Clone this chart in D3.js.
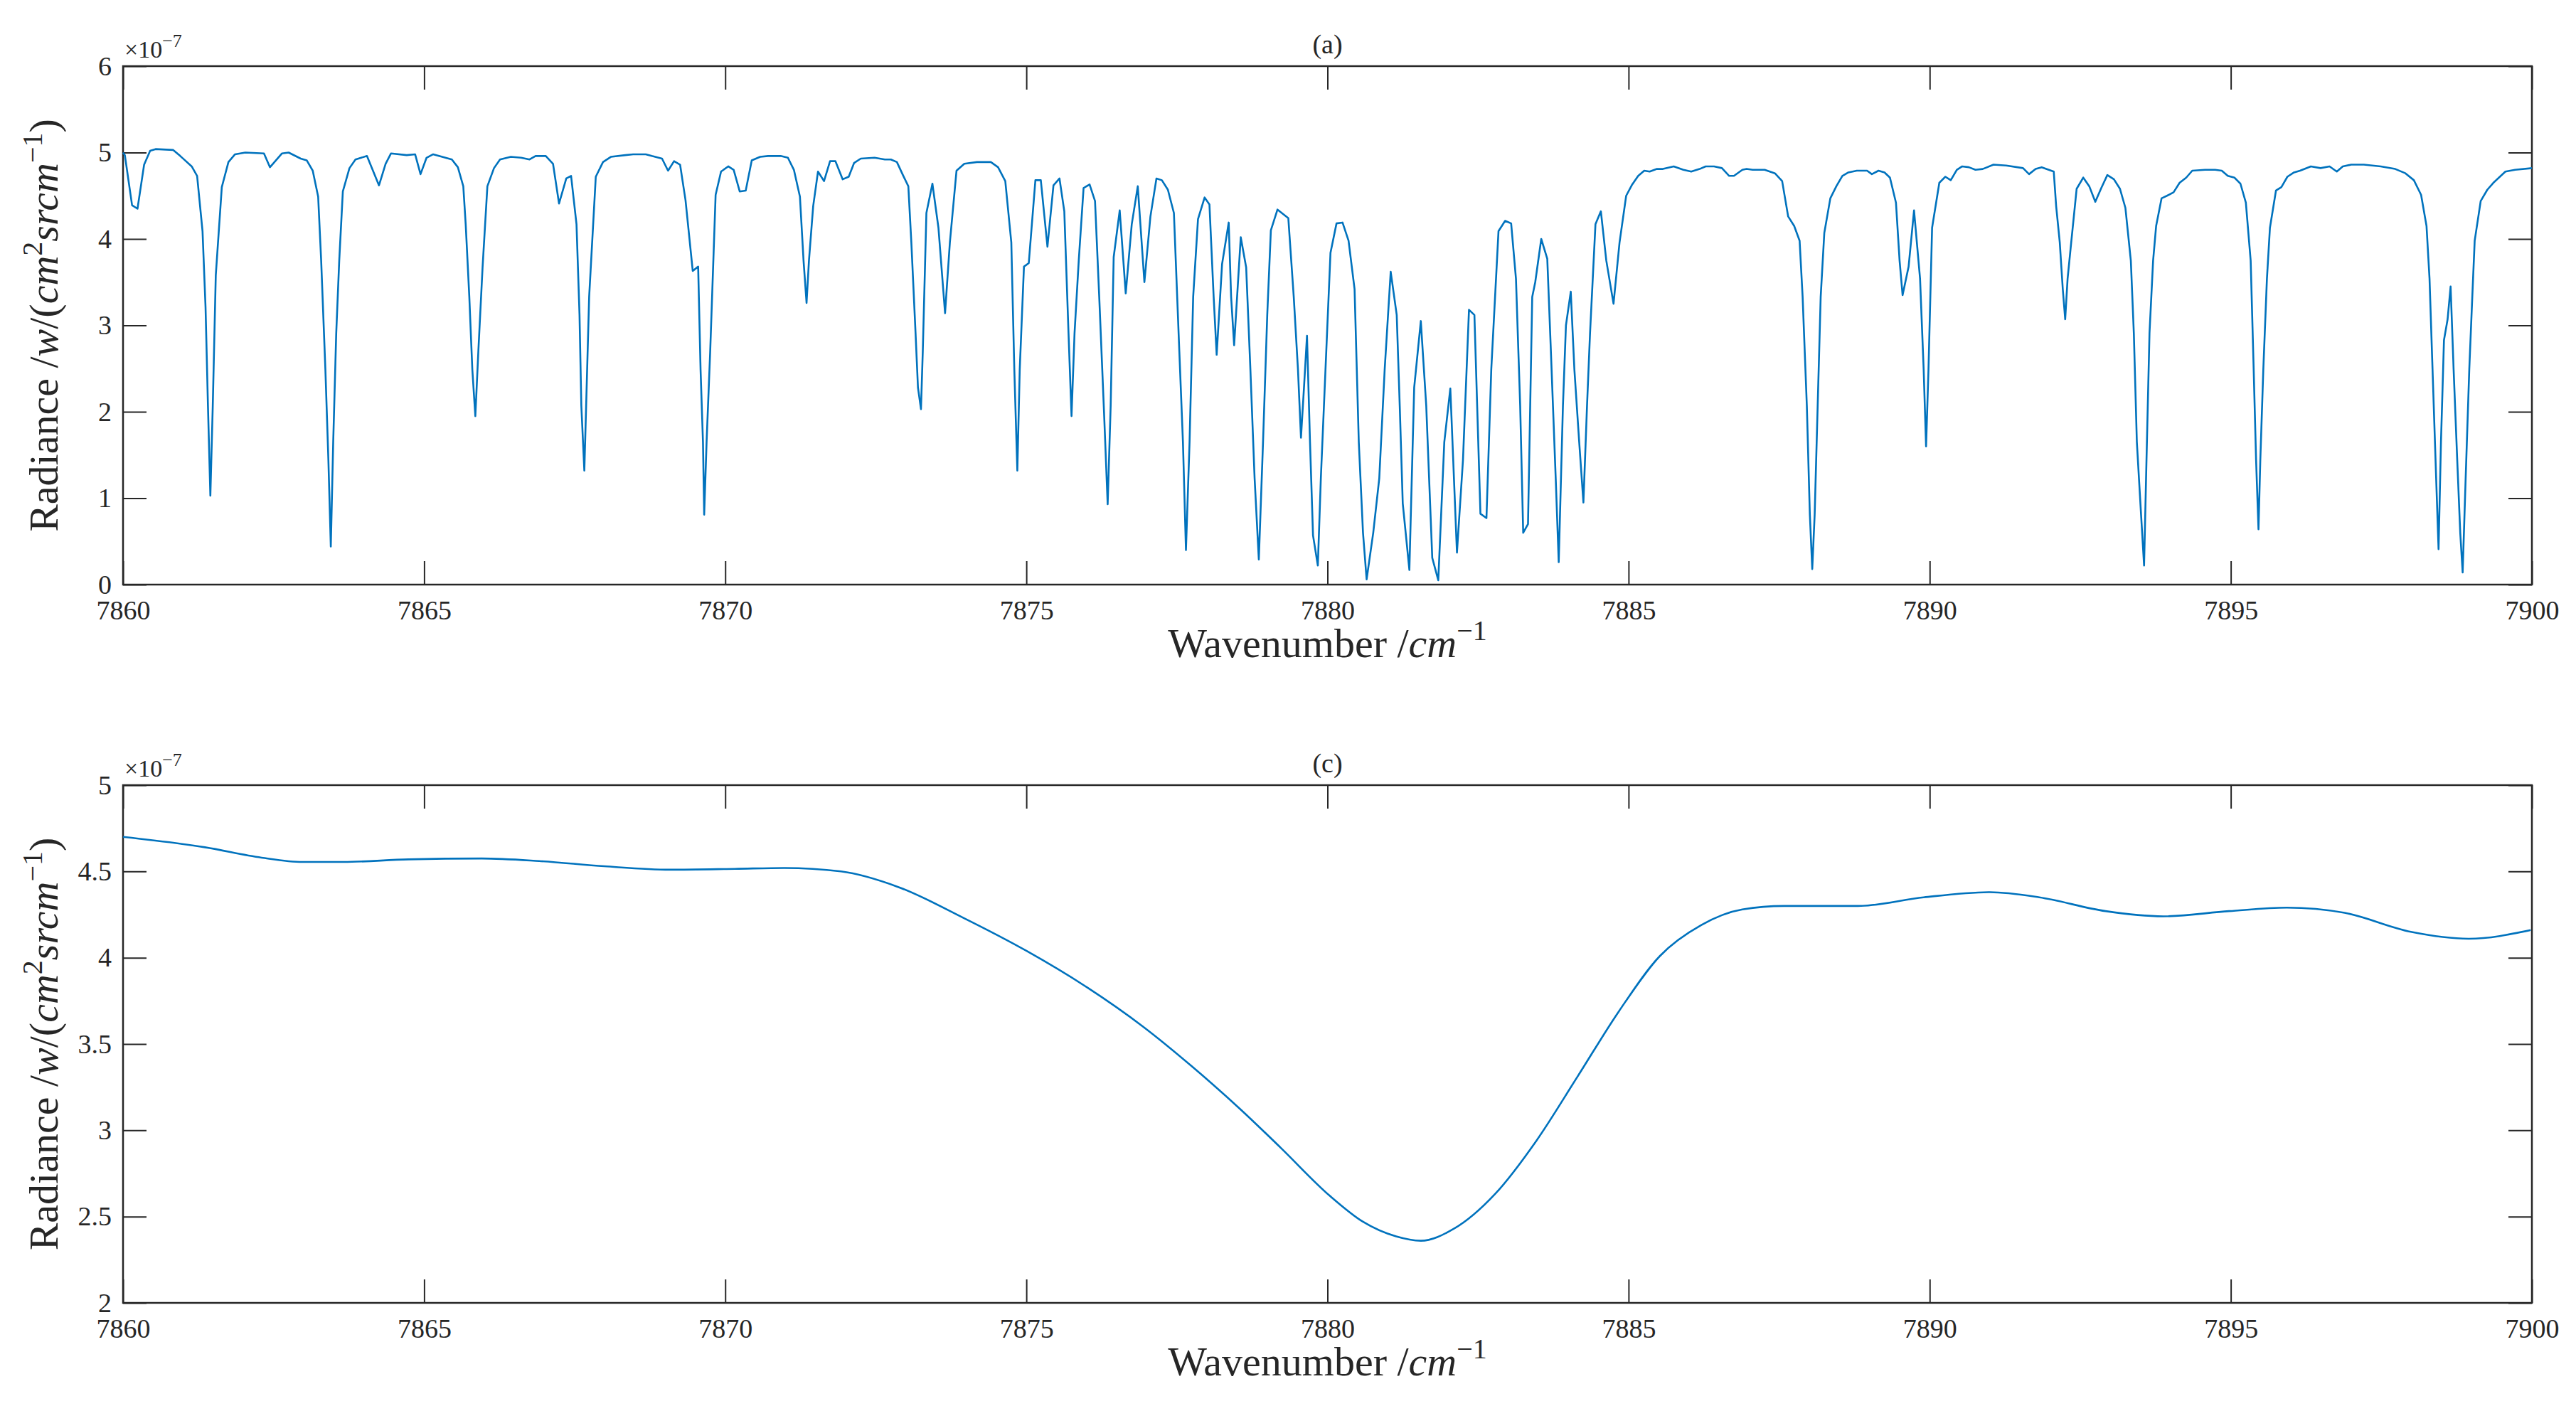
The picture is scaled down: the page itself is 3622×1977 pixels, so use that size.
<!DOCTYPE html>
<html><head><meta charset="utf-8">
<script src="https://cdn.jsdelivr.net/npm/d3@7"></script>
<style>body{margin:0;background:#fff}svg{display:block}text{font-family:"Liberation Serif","DejaVu Serif",serif;fill:#262626}</style>
</head><body>
<svg id="c" width="3622" height="1977"></svg>
<script>
const xTicks = [7860,7865,7870,7875,7880,7885,7890,7895,7900];
const yTicksA = [0,1,2,3,4,5,6];
const yTicksC = [2,2.5,3,3.5,4,4.5,5];
const titles = ["(a)","(c)"];
// panel (a): wavenumber (cm^-1) and radiance (x1e-7)
const wnA = [7860.00,7860.03,7860.15,7860.24,7860.35,7860.45,7860.54,7860.83,7860.95,7861.14,7861.23,7861.32,7861.37,7861.41,7861.45,7861.49,7861.54,7861.64,7861.75,7861.86,7862.03,7862.34,7862.44,7862.64,7862.75,7862.95,7863.05,7863.15,7863.24,7863.29,7863.36,7863.41,7863.45,7863.49,7863.54,7863.59,7863.65,7863.76,7863.86,7864.05,7864.25,7864.36,7864.45,7864.71,7864.85,7864.94,7865.04,7865.15,7865.46,7865.56,7865.65,7865.69,7865.75,7865.80,7865.85,7865.90,7865.97,7866.05,7866.16,7866.26,7866.44,7866.61,7866.75,7866.85,7867.02,7867.14,7867.24,7867.36,7867.44,7867.53,7867.58,7867.61,7867.66,7867.69,7867.74,7867.85,7867.97,7868.10,7868.34,7868.47,7868.68,7868.78,7868.95,7869.05,7869.15,7869.25,7869.34,7869.46,7869.55,7869.59,7869.63,7869.65,7869.69,7869.75,7869.84,7869.93,7870.05,7870.14,7870.24,7870.34,7870.44,7870.58,7870.71,7870.92,7871.04,7871.14,7871.24,7871.30,7871.35,7871.39,7871.46,7871.54,7871.64,7871.74,7871.83,7871.95,7872.05,7872.14,7872.25,7872.48,7872.65,7872.75,7872.85,7872.95,7873.04,7873.09,7873.16,7873.20,7873.25,7873.28,7873.34,7873.44,7873.54,7873.65,7873.73,7873.84,7873.97,7874.18,7874.41,7874.53,7874.65,7874.75,7874.80,7874.85,7874.89,7874.96,7875.04,7875.15,7875.24,7875.35,7875.45,7875.55,7875.63,7875.70,7875.75,7875.80,7875.87,7875.95,7876.05,7876.14,7876.21,7876.29,7876.35,7876.40,7876.45,7876.55,7876.65,7876.75,7876.85,7876.96,7877.06,7877.16,7877.25,7877.35,7877.45,7877.54,7877.60,7877.65,7877.71,7877.77,7877.85,7877.96,7878.04,7878.11,7878.16,7878.25,7878.36,7878.40,7878.45,7878.56,7878.65,7878.72,7878.79,7878.86,7878.93,7879.00,7879.06,7879.17,7879.35,7879.44,7879.51,7879.56,7879.61,7879.66,7879.71,7879.76,7879.84,7879.89,7879.98,7880.05,7880.15,7880.25,7880.35,7880.45,7880.52,7880.59,7880.65,7880.76,7880.86,7880.95,7881.05,7881.15,7881.20,7881.25,7881.36,7881.44,7881.55,7881.64,7881.74,7881.84,7881.94,7882.04,7882.15,7882.25,7882.35,7882.44,7882.54,7882.64,7882.72,7882.84,7882.95,7883.05,7883.13,7883.20,7883.25,7883.33,7883.40,7883.45,7883.55,7883.65,7883.71,7883.79,7883.84,7883.91,7883.96,7884.04,7884.10,7884.18,7884.25,7884.31,7884.36,7884.45,7884.54,7884.63,7884.75,7884.85,7884.96,7885.06,7885.16,7885.26,7885.35,7885.47,7885.57,7885.75,7885.91,7886.04,7886.18,7886.28,7886.42,7886.55,7886.67,7886.75,7886.89,7886.96,7887.06,7887.26,7887.43,7887.55,7887.65,7887.75,7887.84,7887.89,7887.96,7888.01,7888.05,7888.09,7888.14,7888.19,7888.25,7888.35,7888.45,7888.55,7888.65,7888.79,7888.96,7889.04,7889.15,7889.25,7889.34,7889.44,7889.50,7889.55,7889.65,7889.74,7889.84,7889.90,7889.94,7889.98,7890.04,7890.16,7890.26,7890.35,7890.45,7890.54,7890.65,7890.76,7890.88,7891.06,7891.27,7891.55,7891.65,7891.76,7891.86,7892.06,7892.10,7892.16,7892.21,7892.25,7892.29,7892.35,7892.44,7892.55,7892.65,7892.75,7892.85,7892.95,7893.06,7893.16,7893.25,7893.34,7893.39,7893.44,7893.51,7893.56,7893.60,7893.65,7893.71,7893.76,7893.85,7893.94,7894.05,7894.15,7894.26,7894.36,7894.57,7894.74,7894.85,7894.95,7895.06,7895.16,7895.25,7895.33,7895.38,7895.42,7895.46,7895.49,7895.54,7895.60,7895.65,7895.75,7895.84,7895.94,7896.05,7896.15,7896.33,7896.49,7896.64,7896.76,7896.86,7897.00,7897.21,7897.49,7897.73,7897.90,7898.04,7898.16,7898.25,7898.30,7898.35,7898.41,7898.45,7898.49,7898.54,7898.60,7898.65,7898.70,7898.76,7898.81,7898.85,7898.90,7898.96,7899.01,7899.05,7899.15,7899.26,7899.36,7899.56,7899.72,7900.00];
const radA = [5.00,4.97,4.39,4.35,4.86,5.02,5.04,5.03,4.96,4.84,4.73,4.09,3.21,2.07,1.03,2.07,3.58,4.60,4.89,4.98,5.00,4.99,4.83,4.99,5.00,4.93,4.91,4.79,4.49,3.75,2.49,1.44,0.44,1.65,2.91,3.75,4.55,4.82,4.92,4.96,4.62,4.87,4.99,4.97,4.98,4.75,4.94,4.98,4.92,4.83,4.61,4.17,3.33,2.49,1.95,2.70,3.67,4.61,4.82,4.92,4.95,4.94,4.92,4.96,4.96,4.87,4.41,4.70,4.73,4.17,3.12,2.07,1.32,2.07,3.33,4.72,4.89,4.95,4.97,4.98,4.98,4.96,4.93,4.79,4.90,4.86,4.45,3.63,3.68,2.49,1.65,0.81,1.65,2.70,4.51,4.78,4.84,4.80,4.55,4.56,4.91,4.95,4.96,4.96,4.94,4.80,4.49,3.75,3.26,3.75,4.38,4.78,4.67,4.90,4.90,4.69,4.72,4.88,4.93,4.94,4.92,4.92,4.89,4.74,4.61,3.96,2.91,2.28,2.03,2.70,4.30,4.64,4.13,3.14,3.96,4.79,4.87,4.89,4.89,4.83,4.67,3.96,2.49,1.32,2.49,3.68,3.72,4.68,4.68,3.91,4.62,4.70,4.32,2.91,1.95,2.91,3.75,4.59,4.63,4.44,3.33,1.99,0.93,2.07,3.79,4.33,3.37,4.17,4.61,3.50,4.26,4.70,4.68,4.57,4.30,2.70,1.65,0.40,1.65,3.33,4.23,4.48,4.40,3.33,2.66,3.71,4.19,3.33,2.77,4.02,3.67,2.49,1.23,0.29,1.65,3.12,4.10,4.34,4.24,3.33,2.49,1.70,2.28,2.88,1.65,0.57,0.22,1.23,2.70,3.84,4.18,4.19,3.98,3.42,1.65,0.60,0.06,0.60,1.23,2.49,3.62,3.12,2.07,0.94,0.17,2.28,3.05,2.07,0.31,0.05,1.65,2.27,0.37,1.44,3.18,3.12,0.82,0.77,2.49,4.09,4.21,4.18,3.54,2.07,0.60,0.70,3.33,3.50,4.00,3.77,2.70,1.23,0.26,2.07,3.00,3.39,2.49,1.65,0.95,2.07,2.91,4.17,4.32,3.75,3.25,3.96,4.50,4.63,4.73,4.79,4.78,4.81,4.81,4.84,4.80,4.78,4.81,4.84,4.84,4.82,4.73,4.73,4.80,4.81,4.80,4.80,4.76,4.67,4.26,4.15,3.98,3.33,2.07,0.81,0.18,0.81,2.07,3.33,4.07,4.47,4.61,4.73,4.77,4.79,4.79,4.75,4.79,4.77,4.71,4.42,3.75,3.35,3.68,4.33,3.54,2.49,1.60,2.49,4.13,4.65,4.72,4.68,4.80,4.84,4.83,4.80,4.81,4.86,4.85,4.82,4.75,4.81,4.83,4.78,4.38,3.96,3.42,3.07,3.54,3.96,4.58,4.71,4.61,4.43,4.59,4.74,4.69,4.58,4.36,3.75,2.91,1.65,0.81,0.22,1.44,2.91,3.75,4.15,4.47,4.50,4.54,4.65,4.71,4.79,4.80,4.80,4.79,4.73,4.71,4.64,4.42,3.75,2.49,1.44,0.64,1.44,2.49,3.54,4.13,4.56,4.60,4.72,4.77,4.79,4.84,4.82,4.84,4.78,4.84,4.86,4.86,4.84,4.81,4.76,4.68,4.51,4.15,3.54,2.49,1.23,0.41,1.65,2.83,3.07,3.45,2.49,1.44,0.60,0.14,1.23,2.49,3.33,3.98,4.44,4.57,4.65,4.78,4.80,4.82];
// panel (c): smoothed radiance (x1e-7)
const wnC = [7860.00,7861.36,7862.30,7862.98,7863.66,7864.74,7865.96,7866.91,7867.99,7869.08,7870.16,7870.98,7871.92,7872.87,7873.96,7875.00,7876.00,7876.94,7877.75,7878.56,7879.22,7880.04,7880.59,7881.14,7881.55,7882.10,7882.78,7883.47,7884.15,7884.84,7885.52,7886.21,7886.89,7887.58,7888.81,7889.90,7891.00,7891.82,7892.92,7893.88,7894.97,7895.93,7896.89,7897.99,7898.95,7899.98];
const radC = [4.70,4.64,4.58,4.555,4.555,4.57,4.575,4.56,4.53,4.51,4.515,4.52,4.50,4.41,4.23,4.04,3.83,3.60,3.37,3.12,2.90,2.62,2.47,2.385,2.36,2.43,2.63,2.94,3.31,3.69,4.01,4.19,4.28,4.30,4.30,4.35,4.38,4.35,4.27,4.24,4.27,4.29,4.26,4.15,4.11,4.16];

const svg = d3.select("#c");
const L = 173, R = 3560;
const x = d3.scaleLinear().domain([7860,7900]).range([L,R]);
const panels = [
  {top:93, bot:822, dom:[0,6], ticks:yTicksA, wn:wnA, rad:radA, curve:d3.curveLinear, title:titles[0]},
  {top:1104, bot:1832, dom:[2,5], ticks:yTicksC, wn:wnC, rad:radC, curve:d3.curveMonotoneX, title:titles[1]}
];
const axisCol = "#262626";
panels.forEach(p => {
  const y = d3.scaleLinear().domain(p.dom).range([p.bot,p.top]);
  const g = svg.append("g");
  const tl = 33;
  const ax = (a) => a.tickSizeInner(-tl).tickSizeOuter(0);
  g.append("g").attr("transform",`translate(0,${p.bot})`).call(ax(d3.axisBottom(x).tickValues(xTicks).tickFormat(d3.format("d"))).tickPadding(22));
  g.append("g").attr("transform",`translate(0,${p.top})`).call(ax(d3.axisTop(x).tickValues(xTicks)).tickFormat(""));
  g.append("g").attr("transform",`translate(${L},0)`).call(ax(d3.axisLeft(y).tickValues(p.ticks).tickFormat(d=>String(d))).tickPadding(16));
  g.append("g").attr("transform",`translate(${R},0)`).call(ax(d3.axisRight(y).tickValues(p.ticks)).tickFormat(""));
  g.selectAll(".domain").remove();
  g.selectAll(".tick line").attr("stroke",axisCol).attr("stroke-width",2);
  g.selectAll(".tick text").attr("font-size",38).attr("fill",axisCol).style("font-family","'Liberation Serif',serif");
  g.append("rect").attr("x",L).attr("y",p.top).attr("width",R-L).attr("height",p.bot-p.top)
    .attr("fill","none").attr("stroke",axisCol).attr("stroke-width",2.5);
  const data = p.wn.map((w,i)=>[w,p.rad[i]]);
  g.append("path").datum(data).attr("fill","none").attr("stroke","#0072BD").attr("stroke-width",2.6)
    .attr("stroke-linejoin","round")
    .attr("d", d3.line().x(d=>x(d[0])).y(d=>y(d[1])).curve(p.curve));
  const ex = g.append("text").attr("x",L+2).attr("y",p.top-12).attr("font-size",34);
  ex.append("tspan").text("×10");
  ex.append("tspan").attr("dy",-15).attr("font-size",26).text("−7");
  g.append("text").attr("x",(L+R)/2).attr("y",p.top-18).attr("text-anchor","middle").attr("font-size",38).text(p.title);
  const xl = g.append("text").attr("x",(L+R)/2).attr("y",p.bot+102).attr("text-anchor","middle").attr("font-size",58);
  xl.append("tspan").text("Wavenumber /");
  xl.append("tspan").attr("font-style","italic").text("cm");
  xl.append("tspan").attr("dy",-24).attr("font-size",40).text("−1");
  const yl = g.append("text").attr("transform",`translate(${L-92},${(p.top+p.bot)/2}) rotate(-90)`)
    .attr("text-anchor","middle").attr("font-size",58);
  yl.append("tspan").text("Radiance /");
  yl.append("tspan").attr("font-style","italic").text("w");
  yl.append("tspan").text("/(");
  yl.append("tspan").attr("font-style","italic").text("cm");
  yl.append("tspan").attr("dy",-22).attr("font-size",40).text("2");
  yl.append("tspan").attr("dy",22).attr("font-style","italic").text("srcm");
  yl.append("tspan").attr("dy",-22).attr("font-size",40).text("−1");
  yl.append("tspan").attr("dy",22).text(")");
});
</script>
</body></html>
